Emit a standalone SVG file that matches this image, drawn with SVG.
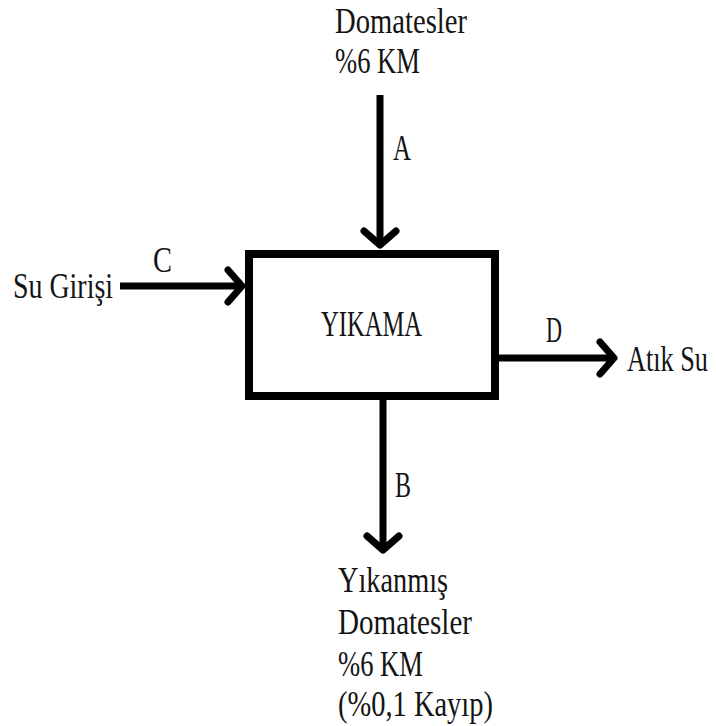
<svg xmlns="http://www.w3.org/2000/svg" width="716" height="726" viewBox="0 0 716 726">
<defs>
<style>
.t{font-family:"Liberation Serif","DejaVu Serif",serif;font-size:35px;fill:#141414}
.ln{stroke:#000;stroke-width:7;fill:none}
.box{fill:#fff;stroke:#000;stroke-width:8}
</style>
<marker id="ah" markerUnits="userSpaceOnUse" orient="auto" refX="0" refY="0" markerWidth="40" markerHeight="40" viewBox="-20 -20 40 40" overflow="visible">
<path d="M-14,-16 L0,0 L-14,16" fill="none" stroke="#000" stroke-width="7" stroke-linecap="round" stroke-linejoin="round"/>
</marker>
</defs>
<rect width="716" height="726" fill="#fff"/>
<g id="connectors">
<line class="ln" x1="380" y1="95" x2="380" y2="245" marker-end="url(#ah)"/>
<line class="ln" x1="120" y1="286" x2="242" y2="286" marker-end="url(#ah)"/>
<line class="ln" x1="499" y1="358" x2="614" y2="358" marker-end="url(#ah)"/>
<line class="ln" x1="383" y1="400" x2="383" y2="550" marker-end="url(#ah)"/>
<text class="t" x="393" y="160" textLength="18" lengthAdjust="spacingAndGlyphs">A</text>
<text class="t" x="153" y="272" textLength="19" lengthAdjust="spacingAndGlyphs">C</text>
<text class="t" x="546" y="342" textLength="16" lengthAdjust="spacingAndGlyphs">D</text>
<text class="t" x="395" y="497" textLength="16" lengthAdjust="spacingAndGlyphs">B</text>
</g>
<g id="yikama">
<rect class="box" x="249" y="254" width="246" height="142"/>
<text class="t" x="321" y="336" textLength="101" lengthAdjust="spacingAndGlyphs">YIKAMA</text>
</g>
<g id="domatesler">
<text class="t" x="335" y="33" textLength="132" lengthAdjust="spacingAndGlyphs">Domatesler</text>
<text class="t" x="335" y="73" textLength="85" lengthAdjust="spacingAndGlyphs">%6 KM</text>
</g>
<g id="su-girisi">
<text class="t" x="13" y="298" textLength="100" lengthAdjust="spacingAndGlyphs">Su Girişi</text>
</g>
<g id="atik-su">
<text class="t" transform="translate(627 371) scale(0.75 1)" x="0" y="0">Atık Su</text>
</g>
<g id="yikanmis">
<text class="t" x="338" y="592" textLength="110" lengthAdjust="spacingAndGlyphs">Yıkanmış</text>
<text class="t" x="338" y="634" textLength="134" lengthAdjust="spacingAndGlyphs">Domatesler</text>
<text class="t" x="338" y="676" textLength="85" lengthAdjust="spacingAndGlyphs">%6 KM</text>
<text class="t" x="338" y="716" textLength="155" lengthAdjust="spacingAndGlyphs">(%0,1 Kayıp)</text>
</g>
</svg>
